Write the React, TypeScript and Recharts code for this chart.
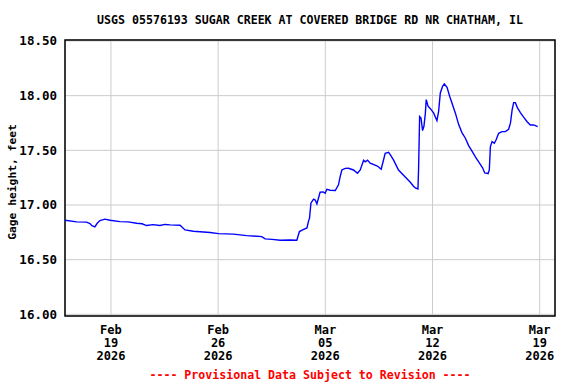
import React from 'react';
import { LineChart, Line, XAxis, YAxis, CartesianGrid, ReferenceArea } from 'recharts';

// time in days since 2026-02-16 00:00, gage height in feet
const days = [
  0, 0.76, 1.41, 1.63, 1.76, 1.95, 2.09, 2.28, 2.61, 2.94, 3.59, 4.11, 4.68, 5.03, 5.33,
  5.75, 6.2, 6.53, 6.86, 7.51, 7.84, 8.38, 8.82, 9.47, 10.02, 11.0, 11.87, 12.85, 13.07,
  13.53, 14.05, 14.7, 15.14, 15.31, 15.55, 15.8, 15.9, 15.97, 16.06, 16.23, 16.34, 16.45,
  16.53, 16.66, 16.86, 16.99, 17.1, 17.32, 17.65, 17.86, 17.97, 18.08, 18.3, 18.51, 18.84,
  19.1, 19.28, 19.5, 19.61, 19.76, 19.93, 20.37, 20.46, 20.65, 20.78, 20.91, 21.13, 21.24,
  21.46, 21.78, 22.22, 22.55, 22.76, 22.88, 23.05, 23.09, 23.16, 23.25, 23.35, 23.44, 23.53,
  23.59, 23.71, 23.86, 24.07, 24.29, 24.4, 24.51, 24.66, 24.77, 24.95, 25.12, 25.27, 25.49,
  25.71, 25.93, 26.14, 26.36, 26.58, 26.8, 27.06, 27.27, 27.41, 27.56, 27.63, 27.71, 27.78,
  27.89, 28.04, 28.17, 28.32, 28.54, 28.76, 28.97, 29.09, 29.2, 29.3, 29.41, 29.56, 29.74,
  29.95, 30.18, 30.39, 30.61, 30.87,
];

const gageHeight = [
  16.861, 16.845, 16.843, 16.83, 16.81, 16.8, 16.83, 16.857, 16.87, 16.86, 16.848, 16.845,
  16.833, 16.828, 16.812, 16.82, 16.812, 16.822, 16.818, 16.815, 16.772, 16.76, 16.755,
  16.748, 16.738, 16.733, 16.72, 16.711, 16.69, 16.685, 16.678, 16.68, 16.678, 16.757,
  16.775, 16.79, 16.85, 16.88, 17.016, 17.053, 17.045, 17.01, 17.05, 17.117, 17.12, 17.108,
  17.144, 17.135, 17.132, 17.184, 17.26, 17.32, 17.335, 17.336, 17.32, 17.29, 17.32, 17.41,
  17.395, 17.41, 17.382, 17.357, 17.35, 17.327, 17.4, 17.473, 17.482, 17.46, 17.41, 17.32,
  17.256, 17.208, 17.172, 17.156, 17.147, 17.324, 17.81, 17.796, 17.68, 17.72, 17.833,
  17.964, 17.903, 17.881, 17.842, 17.771, 17.857, 18.025, 18.086, 18.107, 18.077, 17.995,
  17.933, 17.842, 17.735, 17.66, 17.613, 17.543, 17.492, 17.44, 17.385, 17.34, 17.293,
  17.29, 17.287, 17.32, 17.534, 17.58, 17.565, 17.601, 17.656, 17.671, 17.671, 17.693,
  17.748, 17.869, 17.936, 17.936, 17.885, 17.845, 17.803, 17.762, 17.732, 17.732, 17.717,
];

const xTicks = [3, 10, 17, 24, 31];
const tickMonth = ['Feb', 'Feb', 'Mar', 'Mar', 'Mar'];
const tickDay = ['19', '26', '05', '12', '19'];
const tickYear = ['2026', '2026', '2026', '2026', '2026'];
const yTicks = [16, 16.5, 17, 17.5, 18, 18.5];

const title = 'USGS 05576193 SUGAR CREEK AT COVERED BRIDGE RD NR CHATHAM, IL';
const yLabel = 'Gage height, feet';
const footer = '---- Provisional Data Subject to Revision ----';

const xDomain = [0, 32];
const yDomain = [15.9845, 18.509];

const data = days.map((d, i) => ({ d, h: gageHeight[i] }));

const mono = '"DejaVu Sans Mono", "Liberation Mono", monospace';

function DateTick({ x, y, payload }: any) {
  const i = xTicks.indexOf(payload.value);
  const common = { x, textAnchor: 'middle' as const, fontFamily: mono, fontWeight: 'bold', fontSize: 12, fill: '#000' };
  return (
    <g>
      <text {...common} y={y + 10}>{tickMonth[i]}</text>
      <text {...common} y={y + 23}>{tickDay[i]}</text>
      <text {...common} y={y + 36}>{tickYear[i]}</text>
    </g>
  );
}

export default function App() {
  return (
    <div style={{ position: 'absolute', left: 0, top: 0, width: 576, height: 384, background: '#fff', fontFamily: mono }}>
      <div style={{ position: 'absolute', left: 65, top: 12, width: 490, textAlign: 'center', fontSize: 11.6, lineHeight: '16px', fontWeight: 'bold', whiteSpace: 'nowrap' }}>
        {title}
      </div>
      <LineChart width={576} height={384} data={data} margin={{ top: 40, right: 21, bottom: 0, left: 0 }}>
        <CartesianGrid stroke="#cccccc" strokeWidth={1} />
        <XAxis
          dataKey="d"
          type="number"
          domain={xDomain}
          ticks={xTicks}
          allowDataOverflow
          axisLine={false}
          tickLine={false}
          height={68}
          tick={<DateTick />}
        />
        <YAxis
          type="number"
          domain={yDomain}
          ticks={yTicks}
          allowDataOverflow
          axisLine={false}
          tickLine={false}
          width={65}
          tickFormatter={(v: number) => v.toFixed(2)}
          tick={{ fontFamily: mono, fontWeight: 'bold', fontSize: 12.5, fill: '#000' }}
        />
        <ReferenceArea x1={xDomain[0]} x2={xDomain[1]} y1={yDomain[0]} y2={yDomain[1]} fill="none" stroke="#000" strokeWidth={1.5} />
        <Line type="linear" dataKey="h" stroke="#0000ff" strokeWidth={1.4} dot={false} isAnimationActive={false} />
      </LineChart>
      <div style={{ position: 'absolute', left: 12, top: 182, transform: 'translate(-50%, -50%) rotate(-90deg)', fontSize: 11.3, fontWeight: 'bold', whiteSpace: 'nowrap' }}>
        {yLabel}
      </div>
      <div style={{ position: 'absolute', left: 65, top: 367, width: 490, textAlign: 'center', fontSize: 11.6, lineHeight: '16px', fontWeight: 'bold', color: '#ff0000', whiteSpace: 'nowrap' }}>
        {footer}
      </div>
    </div>
  );
}
